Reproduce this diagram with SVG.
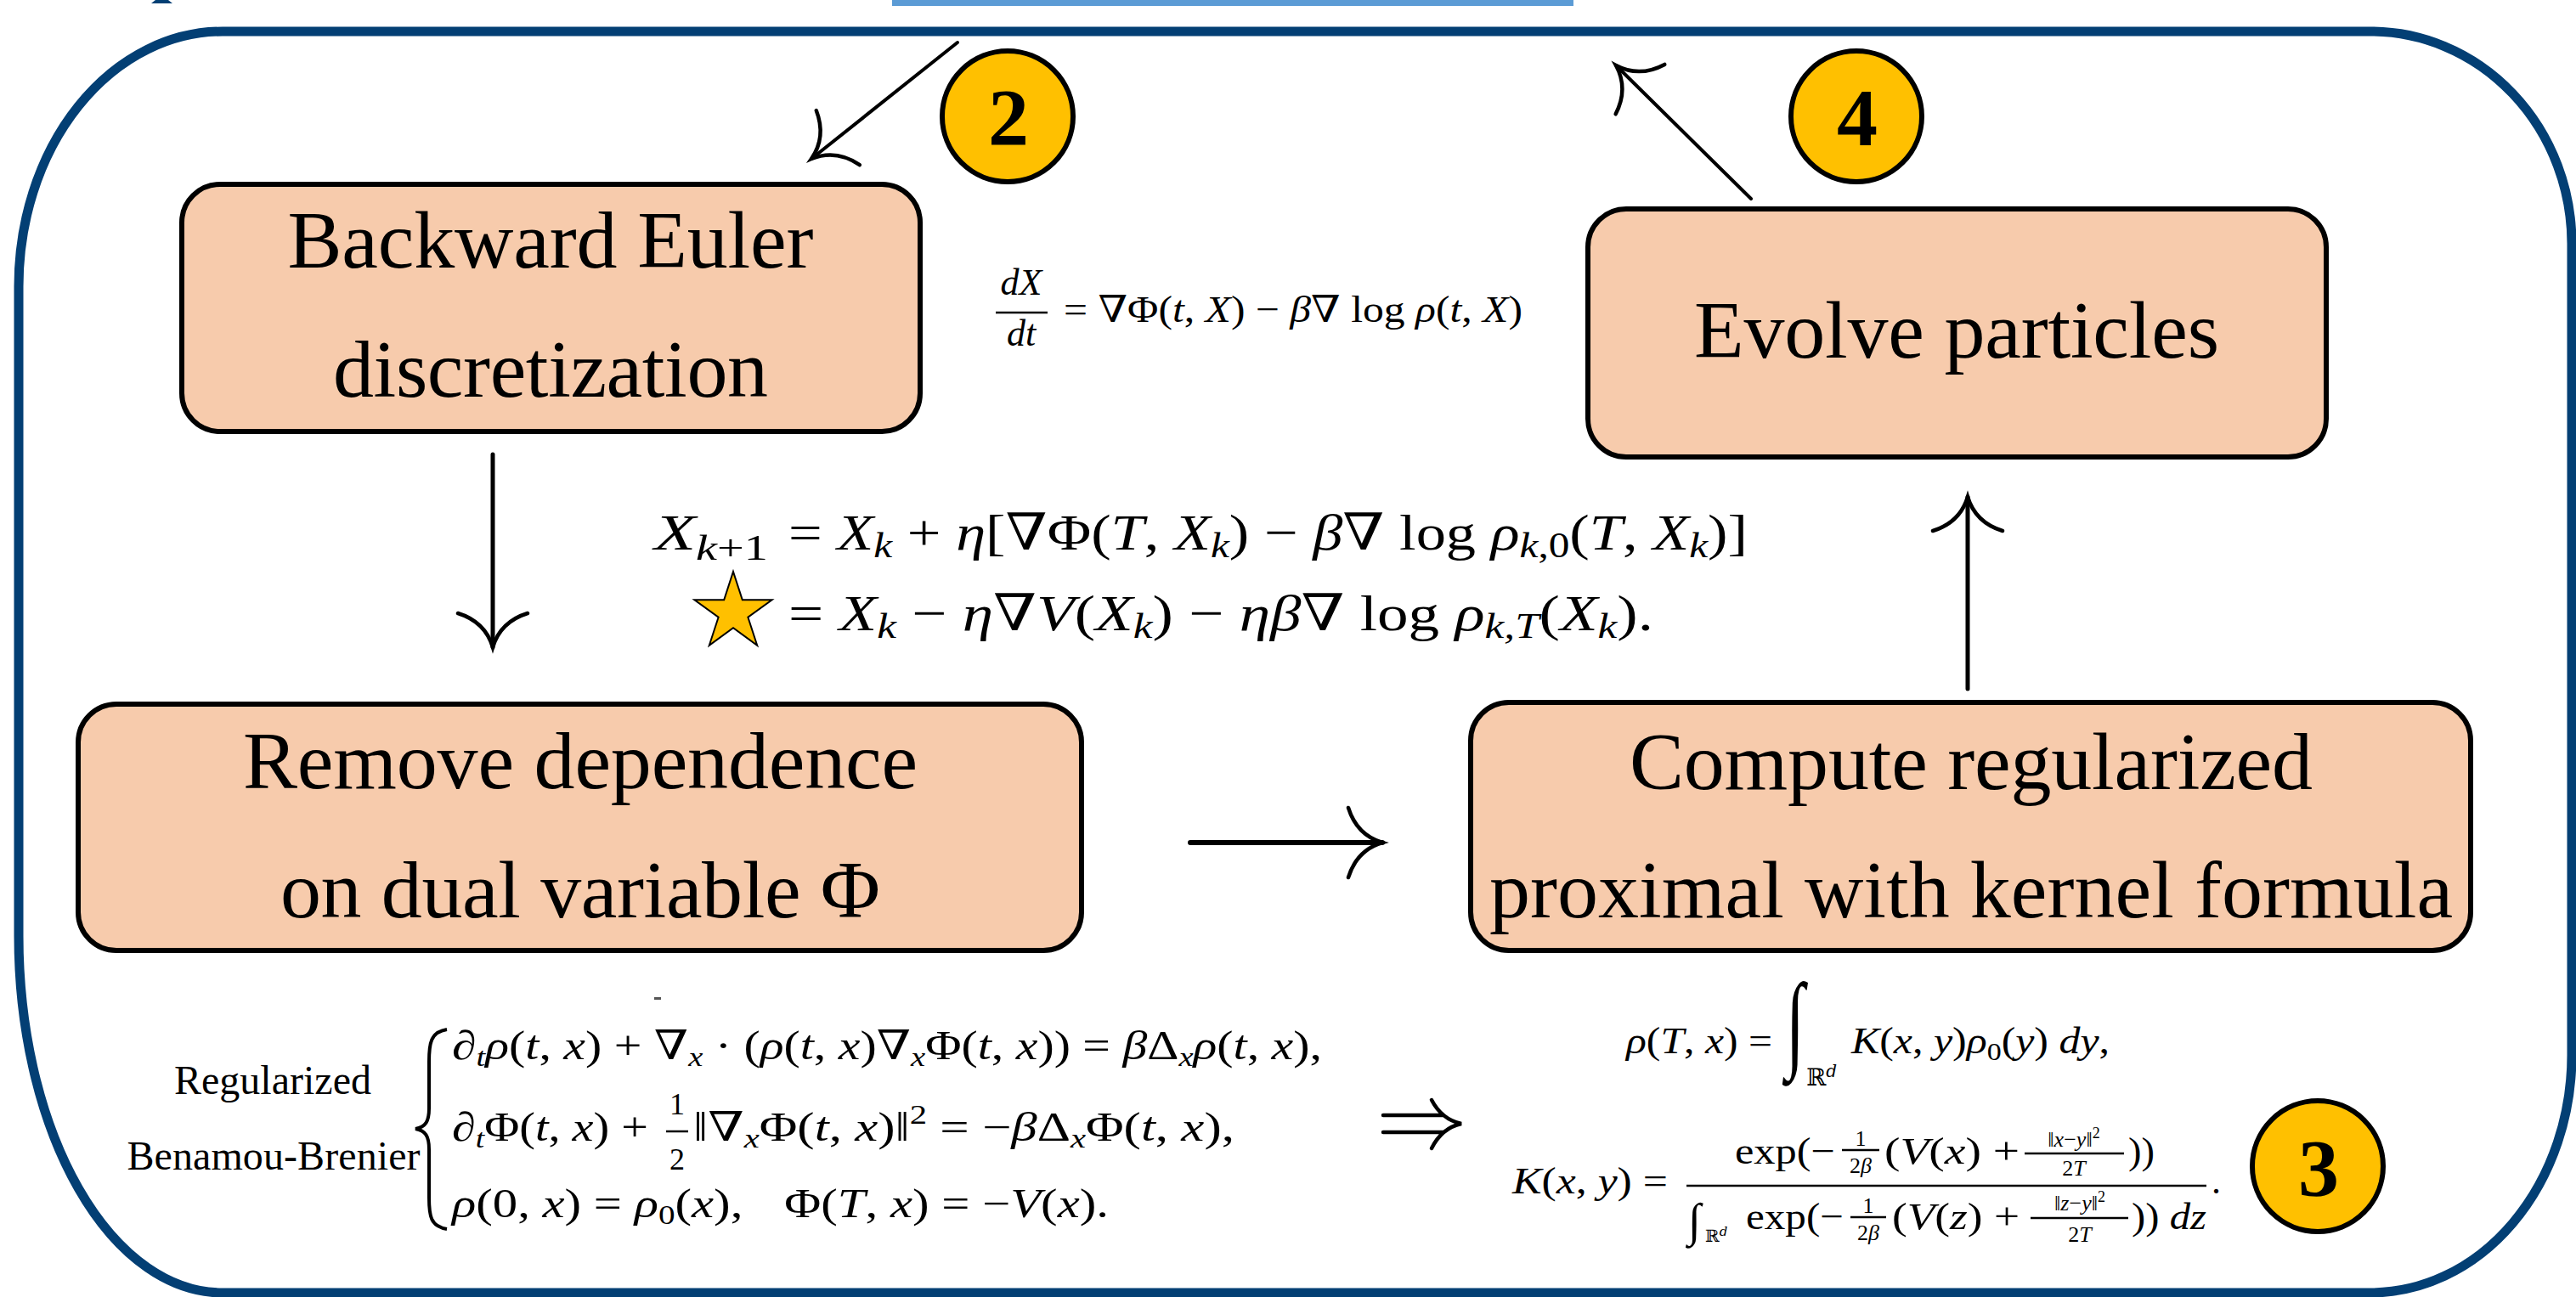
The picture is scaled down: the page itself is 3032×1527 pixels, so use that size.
<svg xmlns="http://www.w3.org/2000/svg" width="3032" height="1527" viewBox="0 0 3032 1527">
<style>
.box{fill:#F7CBAC;stroke:#000;stroke-width:6}
.lbl{font-family:"Liberation Serif","Tinos","Times New Roman","DejaVu Serif",serif;font-size:96px;text-anchor:middle;fill:#000}
.badge{fill:#FFC000;stroke:#000;stroke-width:6}
.num{font-family:"Liberation Serif","Tinos","Times New Roman","DejaVu Serif",serif;font-weight:bold;font-size:96px;text-anchor:middle;fill:#000}
.m{font-family:"Liberation Serif","Tinos","Times New Roman","DejaVu Serif",serif;fill:#000}
.c{text-anchor:middle}
.i{font-style:italic}
.bb{font-family:"DejaVu Serif",serif}
.bar{stroke:#000;stroke-width:2.5}
.conn{stroke:#000;fill:none;stroke-linecap:round}
</style>
<defs>
<marker id="tip" markerUnits="userSpaceOnUse" orient="auto" refX="0" refY="0" markerWidth="100" markerHeight="100" style="overflow:visible">
<path d="M-40,-41 Q-30,-9 0,0 Q-30,9 -40,41" fill="none" stroke="#000" stroke-width="4.5" stroke-linecap="round"/>
</marker>
</defs>
<rect width="3032" height="1527" fill="#fff"/>
<rect x="1050" y="0" width="802" height="7" fill="#5B9BD5"/>
<polygon points="183,0 198,0 203,4 178,4" fill="#033F74"/>
<path id="frame" d="M262,37 H2790 A237,250 0 0 1 3027,287 V1242 A237,280 0 0 1 2790,1522 H262 A240,420 0 0 1 22,1102 V337 A240,300 0 0 1 262,37 Z" fill="none" stroke="#033F74" stroke-width="11"/>

<g id="connectors">
<line class="conn" x1="1127" y1="50" x2="955" y2="187" stroke-width="4" marker-end="url(#tip)"/>
<line class="conn" x1="2061" y1="234" x2="1902" y2="77" stroke-width="4" marker-end="url(#tip)"/>
<line class="conn" x1="580" y1="535" x2="580" y2="762" stroke-width="5" marker-end="url(#tip)"/>
<line class="conn" x1="1401" y1="992" x2="1627" y2="992" stroke-width="6" marker-end="url(#tip)"/>
<line class="conn" x1="2316" y1="811" x2="2316" y2="585" stroke-width="5" marker-end="url(#tip)"/>
<path id="implies" d="M1628,1313 H1699 M1628,1333 H1699 M1685,1295 Q1697,1318 1720,1323 Q1697,1328 1685,1352" fill="none" stroke="#000" stroke-width="4.5" stroke-linecap="round"/>
</g>

<g id="node-backward-euler">
<rect class="box" x="214" y="217" width="869" height="291" rx="45"/>
<text class="lbl" x="648" y="315" textLength="619">Backward Euler</text>
<text class="lbl" x="648" y="467" textLength="512">discretization</text>
</g>
<g id="node-remove-dependence">
<rect class="box" x="92" y="829" width="1181" height="290" rx="45"/>
<text class="lbl" x="683" y="928" textLength="794">Remove dependence</text>
<text class="lbl" x="683" y="1080" textLength="706">on dual variable Φ</text>
</g>
<g id="node-evolve">
<rect class="box" x="1869" y="246" width="869" height="292" rx="45"/>
<text class="lbl" x="2303" y="421" textLength="618">Evolve particles</text>
</g>
<g id="node-compute">
<rect class="box" x="1731" y="827" width="1177" height="292" rx="45"/>
<text class="lbl" x="2320" y="929" textLength="804">Compute regularized</text>
<text class="lbl" x="2320" y="1080" textLength="1134">proximal with kernel formula</text>
</g>

<g id="badge-2">
<circle class="badge" cx="1186" cy="137" r="77"/>
<text class="num" x="1187" y="171">2</text>
</g>
<g id="badge-4">
<circle class="badge" cx="2185" cy="137" r="77"/>
<text class="num" x="2186" y="171">4</text>
</g>
<g id="badge-3">
<circle class="badge" cx="2728" cy="1373" r="77"/>
<text class="num" x="2729" y="1408">3</text>
</g>

<g id="formula-ode" class="m">
<text class="i c" x="1202" y="347" font-size="44">dX</text>
<line class="bar" x1="1172" y1="368" x2="1233" y2="368"/>
<text class="i c" x="1202" y="407" font-size="44">dt</text>
<text x="1252" y="379" font-size="44" textLength="540" lengthAdjust="spacingAndGlyphs">= ∇Φ(<tspan class="i">t</tspan>, <tspan class="i">X</tspan>) − <tspan class="i">β</tspan>∇ log <tspan class="i">ρ</tspan>(<tspan class="i">t</tspan>, <tspan class="i">X</tspan>)</text>
</g>

<g id="formula-update" class="m">
<text x="770" y="647" font-size="60" textLength="134" lengthAdjust="spacingAndGlyphs"><tspan class="i">X</tspan><tspan dy="12" font-size="42"><tspan class="i">k</tspan>+1</tspan></text>
<text x="928" y="647" font-size="60" textLength="1129" lengthAdjust="spacingAndGlyphs">= <tspan class="i">X</tspan><tspan class="i" font-size="42" dy="9">k</tspan><tspan dy="-9"> + </tspan><tspan class="i">η</tspan>[∇Φ(<tspan class="i">T</tspan>, <tspan class="i">X</tspan><tspan class="i" font-size="42" dy="9">k</tspan><tspan dy="-9">) − </tspan><tspan class="i">β</tspan>∇ log <tspan class="i">ρ</tspan><tspan font-size="42" dy="9"><tspan class="i">k</tspan>,0</tspan><tspan dy="-9">(</tspan><tspan class="i">T</tspan>, <tspan class="i">X</tspan><tspan class="i" font-size="42" dy="9">k</tspan><tspan dy="-9">)]</tspan></text>
<polygon points="863,673 873.8,706.2 908.6,706.2 880.4,726.7 891.2,759.8 863,739.3 834.8,759.8 845.6,726.7 817.4,706.2 852.2,706.2" fill="#FFC000" stroke="#000" stroke-width="2"/>
<text x="928" y="742" font-size="60" textLength="1018" lengthAdjust="spacingAndGlyphs">= <tspan class="i">X</tspan><tspan class="i" font-size="42" dy="9">k</tspan><tspan dy="-9"> − </tspan><tspan class="i">η</tspan>∇<tspan class="i">V</tspan>(<tspan class="i">X</tspan><tspan class="i" font-size="42" dy="9">k</tspan><tspan dy="-9">) − </tspan><tspan class="i">ηβ</tspan>∇ log <tspan class="i">ρ</tspan><tspan class="i" font-size="42" dy="9">k,T</tspan><tspan dy="-9">(</tspan><tspan class="i">X</tspan><tspan class="i" font-size="42" dy="9">k</tspan><tspan dy="-9">).</tspan></text>
</g>

<g id="formula-bb" class="m">
<text class="c" x="321" y="1288" font-size="48" textLength="232">Regularized</text>
<text class="c" x="322" y="1377" font-size="48" textLength="345">Benamou-Brenier</text>
<path d="M526,1212 C507,1215 505,1228 505,1250 L505,1305 C505,1320 501,1327 489,1329 C501,1331 505,1338 505,1353 L505,1410 C505,1432 507,1444 526,1447" fill="none" stroke="#000" stroke-width="4"/>
<rect x="770" y="1174" width="8" height="3" fill="#555"/>
<text x="532" y="1247" font-size="48" textLength="1024" lengthAdjust="spacingAndGlyphs">∂<tspan class="i" font-size="32" dy="8">t</tspan><tspan class="i" dy="-8">ρ</tspan>(<tspan class="i">t</tspan>, <tspan class="i">x</tspan>) + ∇<tspan class="i" font-size="32" dy="8">x</tspan><tspan dy="-8"> · (</tspan><tspan class="i">ρ</tspan>(<tspan class="i">t</tspan>, <tspan class="i">x</tspan>)∇<tspan class="i" font-size="32" dy="8">x</tspan><tspan dy="-8">Φ(</tspan><tspan class="i">t</tspan>, <tspan class="i">x</tspan>)) = <tspan class="i">β</tspan>Δ<tspan class="i" font-size="32" dy="8">x</tspan><tspan class="i" dy="-8">ρ</tspan>(<tspan class="i">t</tspan>, <tspan class="i">x</tspan>),</text>
<text x="532" y="1343" font-size="48" textLength="231" lengthAdjust="spacingAndGlyphs">∂<tspan class="i" font-size="32" dy="8">t</tspan><tspan dy="-8">Φ(</tspan><tspan class="i">t</tspan>, <tspan class="i">x</tspan>) +</text>
<text class="c" x="797" y="1312" font-size="36">1</text>
<line class="bar" x1="784" y1="1332" x2="810" y2="1332"/>
<text class="c" x="797" y="1377" font-size="36">2</text>
<text x="816" y="1343" font-size="48" textLength="637" lengthAdjust="spacingAndGlyphs">‖∇<tspan class="i" font-size="32" dy="8">x</tspan><tspan dy="-8">Φ(</tspan><tspan class="i">t</tspan>, <tspan class="i">x</tspan>)‖<tspan font-size="32" dy="-20">2</tspan><tspan dy="20"> = −</tspan><tspan class="i">β</tspan>Δ<tspan class="i" font-size="32" dy="8">x</tspan><tspan dy="-8">Φ(</tspan><tspan class="i">t</tspan>, <tspan class="i">x</tspan>),</text>
<text x="532" y="1433" font-size="48" textLength="773" lengthAdjust="spacingAndGlyphs"><tspan class="i">ρ</tspan>(0, <tspan class="i">x</tspan>) = <tspan class="i">ρ</tspan><tspan font-size="32" dy="8">0</tspan><tspan dy="-8">(</tspan><tspan class="i">x</tspan>),<tspan dx="40">Φ(</tspan><tspan class="i">T</tspan>, <tspan class="i">x</tspan>) = −<tspan class="i">V</tspan>(<tspan class="i">x</tspan>).</text>
</g>

<g id="formula-kernel" class="m">
<text x="1914" y="1240" font-size="44" textLength="172" lengthAdjust="spacingAndGlyphs"><tspan class="i">ρ</tspan>(<tspan class="i">T</tspan>, <tspan class="i">x</tspan>) =</text>
<text transform="translate(2102,1245) scale(0.8,1.26)" font-size="100">∫</text>
<text x="2126" y="1278" font-size="28" class="bb">ℝ<tspan class="i" font-size="20" dy="-10">d</tspan></text>
<text x="2179" y="1240" font-size="44" textLength="304" lengthAdjust="spacingAndGlyphs"><tspan class="i">K</tspan>(<tspan class="i">x</tspan>, <tspan class="i">y</tspan>)<tspan class="i">ρ</tspan><tspan font-size="30" dy="8">0</tspan><tspan dy="-8">(</tspan><tspan class="i">y</tspan>) <tspan class="i">dy</tspan>,</text>

<text x="1780" y="1405" font-size="44" textLength="183" lengthAdjust="spacingAndGlyphs"><tspan class="i">K</tspan>(<tspan class="i">x</tspan>, <tspan class="i">y</tspan>) =</text>
<line class="bar" x1="1985" y1="1396" x2="2597" y2="1396"/>
<text x="2042" y="1370" font-size="44" textLength="118" lengthAdjust="spacingAndGlyphs">exp(−</text>
<text class="c" x="2190" y="1349" font-size="26">1</text>
<line class="bar" x1="2168" y1="1354" x2="2212" y2="1354" stroke-width="2"/>
<text class="c" x="2190" y="1381" font-size="26">2<tspan class="i">β</tspan></text>
<text x="2218" y="1370" font-size="44" textLength="159" lengthAdjust="spacingAndGlyphs">(<tspan class="i">V</tspan>(<tspan class="i">x</tspan>) +</text>
<text class="c" x="2441" y="1350" font-size="26">‖<tspan class="i">x</tspan>−<tspan class="i">y</tspan>‖<tspan font-size="18" dy="-10">2</tspan></text>
<line class="bar" x1="2383" y1="1358" x2="2500" y2="1358" stroke-width="2"/>
<text class="c" x="2441" y="1384" font-size="26">2<tspan class="i">T</tspan></text>
<text x="2505" y="1370" font-size="44" textLength="31" lengthAdjust="spacingAndGlyphs">))</text>

<text x="1987" y="1455" font-size="55">∫</text>
<text x="2007" y="1462" font-size="20" class="bb">ℝ<tspan class="i" font-size="15" dy="-7">d</tspan></text>
<text x="2055" y="1447" font-size="44" textLength="115" lengthAdjust="spacingAndGlyphs">exp(−</text>
<text class="c" x="2199" y="1428" font-size="26">1</text>
<line class="bar" x1="2178" y1="1433" x2="2220" y2="1433" stroke-width="2"/>
<text class="c" x="2199" y="1460" font-size="26">2<tspan class="i">β</tspan></text>
<text x="2227" y="1447" font-size="44" textLength="150" lengthAdjust="spacingAndGlyphs">(<tspan class="i">V</tspan>(<tspan class="i">z</tspan>) +</text>
<text class="c" x="2448" y="1425" font-size="26">‖<tspan class="i">z</tspan>−<tspan class="i">y</tspan>‖<tspan font-size="18" dy="-10">2</tspan></text>
<line class="bar" x1="2390" y1="1434" x2="2505" y2="1434" stroke-width="2"/>
<text class="c" x="2448" y="1462" font-size="26">2<tspan class="i">T</tspan></text>
<text x="2509" y="1447" font-size="44" textLength="88" lengthAdjust="spacingAndGlyphs">)) <tspan class="i">dz</tspan></text>
<text x="2603" y="1405" font-size="44">.</text>
</g>
</svg>
